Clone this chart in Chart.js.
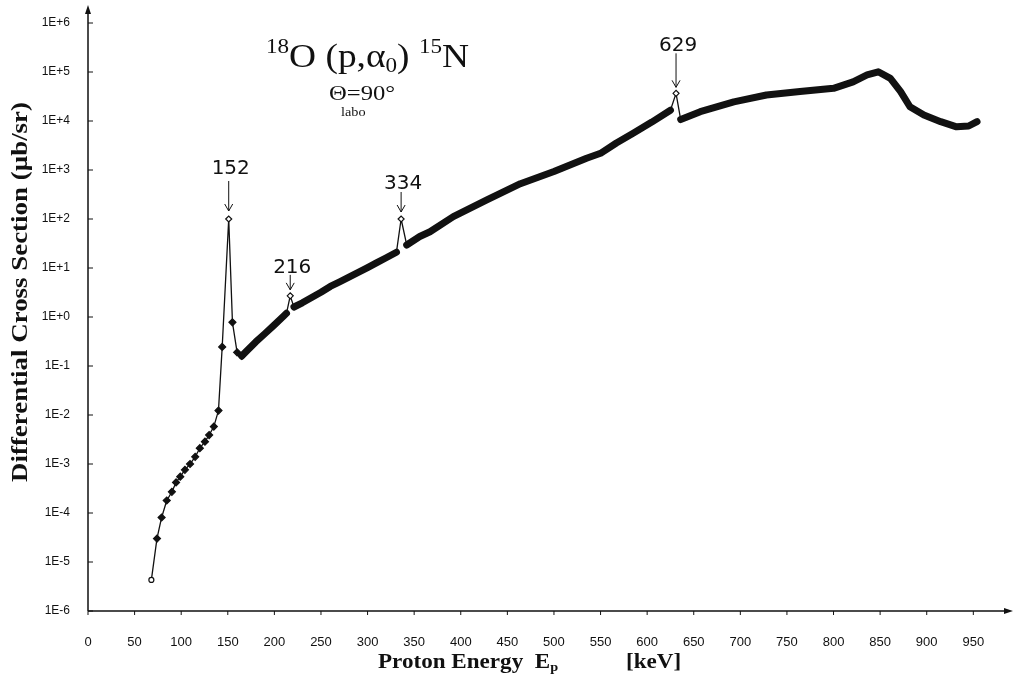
<!DOCTYPE html>
<html>
<head>
<meta charset="utf-8">
<script src="https://cdn.jsdelivr.net/npm/chart.js@4.4.1/dist/chart.umd.min.js"></script>
<style>
  body { margin: 0; background: #fff; }
  #wrap { width: 1013px; height: 676px; position: relative; }
</style>
</head>
<body>
<div id="wrap"><canvas id="xsec" width="1013" height="676"></canvas></div>
<script>
// proton energy (keV) and differential cross section (µb/sr)
const energy = [68, 74, 79, 84.5, 90, 94.5, 99, 104, 109.5, 115, 120, 125.5,
  130, 135, 140, 144, 151, 155, 160, 165, 170, 180, 190, 200,
  210, 213, 217, 221, 230, 240, 250, 260, 270, 280, 290, 300,
  310, 320, 331, 336, 342, 356, 367, 392, 428, 464, 500, 535,
  550, 567, 585, 605, 625, 631, 636, 657, 693, 728, 764, 800,
  821, 836, 848, 861, 872, 882, 897, 915, 932, 945, 954];
const sigma = [4.3e-6, 3.0e-5, 8.1e-5, 1.8e-4, 2.7e-4, 4.2e-4, 5.5e-4, 7.6e-4, 1.0e-3, 1.4e-3, 2.1e-3, 2.85e-3,
  3.9e-3, 5.8e-3, 1.23e-2, 0.245, 100, 0.78, 0.19, 0.16, 0.2, 0.31, 0.46, 0.69,
  1.05, 1.19, 2.7, 1.6, 1.95, 2.5, 3.2, 4.2, 5.2, 6.5, 8.1, 10.2,
  12.9, 16.2, 21, 100, 29.5, 44, 55, 112, 245, 525, 930, 1740,
  2190, 3550, 5600, 9500, 16600, 36700, 10700, 15500, 24600, 33900, 39800, 46400,
  63000, 87000, 101000, 74000, 39800, 19500, 13200, 9700, 7600, 7900, 9700];

// resonances marked with arrows
const peakEnergies = [151, 217, 336, 631];
const peakLabels = ['152', '216', '334', '629'];

// axis ticks
const xTicks = [0, 50, 100, 150, 200, 250, 300, 350, 400, 450, 500, 550, 600, 650, 700, 750, 800, 850, 900, 950];
const yExponents = [-6, -5, -4, -3, -2, -1, 0, 1, 2, 3, 4, 5, 6];

const peakIndex = peakEnergies.map(e => energy.indexOf(e));
const isPeak = i => peakIndex.includes(i);
const sparseUpTo = 165; // below this the data were measured point by point

// label placement above each peak point: text centre, arrow start, arrow end (px above point)
const arrowStyle = [
  { text: 50, from: 38, to: 8 },
  { text: 28, from: 21, to: 6 },
  { text: 35, from: 27, to: 7 },
  { text: 48, from: 40, to: 6 },
];

const serif = '"Liberation Serif", "Times New Roman", serif';

// draws a run of text pieces, stretched horizontally by sx, returns end x
function textRun(ctx, x, base, sx, pieces) {
  pieces.forEach(([txt, font, dy]) => {
    ctx.font = font;
    ctx.save();
    ctx.translate(x, base + dy);
    ctx.scale(sx, 1);
    ctx.fillText(txt, 0, 0);
    ctx.restore();
    x += ctx.measureText(txt).width * sx;
  });
  return x;
}

const decorations = {
  id: 'decorations',
  afterDraw(chart) {
    const ctx = chart.ctx;
    const xs = chart.scales.x, ys = chart.scales.y;
    const area = chart.chartArea;
    ctx.save();
    ctx.strokeStyle = '#111';
    ctx.fillStyle = '#111';

    // axes with arrow heads
    ctx.lineWidth = 1.5;
    ctx.beginPath();
    ctx.moveTo(area.left, area.bottom);
    ctx.lineTo(area.left, 10);
    ctx.moveTo(area.left, area.bottom);
    ctx.lineTo(1010, area.bottom);
    ctx.stroke();
    ctx.beginPath();
    ctx.moveTo(area.left, 5); ctx.lineTo(area.left - 3, 14); ctx.lineTo(area.left + 3, 14); ctx.closePath();
    ctx.moveTo(1013, area.bottom); ctx.lineTo(1004, area.bottom - 3); ctx.lineTo(1004, area.bottom + 3); ctx.closePath();
    ctx.fill();

    // tick marks
    ctx.lineWidth = 1;
    ctx.beginPath();
    yExponents.forEach(p => {
      const y = ys.getPixelForValue(Math.pow(10, p));
      ctx.moveTo(area.left, y); ctx.lineTo(area.left + 5, y);
    });
    xTicks.forEach(v => {
      const x = xs.getPixelForValue(v);
      ctx.moveTo(x, area.bottom); ctx.lineTo(x, area.bottom + 4);
    });
    ctx.stroke();

    // peak labels with arrows
    ctx.textAlign = 'center';
    ctx.textBaseline = 'middle';
    ctx.font = '20px "DejaVu Sans", sans-serif';
    peakIndex.forEach((idx, k) => {
      const px = xs.getPixelForValue(energy[idx]);
      const py = ys.getPixelForValue(sigma[idx]);
      const s = arrowStyle[k];
      ctx.fillText(peakLabels[k], px + 2, py - s.text);
      ctx.beginPath();
      ctx.moveTo(px, py - s.from);
      ctx.lineTo(px, py - s.to);
      ctx.moveTo(px - 4, py - s.to - 7);
      ctx.lineTo(px, py - s.to);
      ctx.lineTo(px + 4, py - s.to - 7);
      ctx.stroke();
    });

    // reaction title
    ctx.textAlign = 'left';
    ctx.textBaseline = 'alphabetic';
    const big = '34px ' + serif, small = '21px ' + serif;
    textRun(ctx, 266, 67, 1.1, [
      ['18', small, -14], ['O (p,\u03b1', big, 0], ['0', small, 5],
      [') ', big, 0], ['15', small, -14], ['N', big, 0]
    ]);
    textRun(ctx, 329, 100, 1.12, [['\u0398=90\u00b0', '22px ' + serif, 0]]);
    textRun(ctx, 341, 116, 1.1, [['labo', '13px ' + serif, 0]]);

    // axis titles
    const bold = 'bold 21px ' + serif;
    textRun(ctx, 378, 668, 1.1, [['Proton Energy  E', bold, 0], ['p', 'bold 13px ' + serif, 3]]);
    textRun(ctx, 626, 668, 1.1, [['[keV]', bold, 0]]);

    ctx.save();
    ctx.translate(21, 292);
    ctx.rotate(-Math.PI / 2);
    ctx.scale(1.17, 1);
    ctx.textAlign = 'center';
    ctx.textBaseline = 'middle';
    ctx.font = 'bold 23px ' + serif;
    ctx.fillText('Differential Cross Section (\u00b5b/sr)', 0, 0);
    ctx.restore();

    ctx.restore();
  }
};

const points = energy.map((e, i) => ({ x: e, y: sigma[i] }));

new Chart(document.getElementById('xsec'), {
  type: 'line',
  data: {
    datasets: [{
      data: points,
      borderColor: '#111',
      borderJoinStyle: 'round',
      borderCapStyle: 'round',
      tension: 0,
      pointStyle: c => (c.dataIndex === 0 ? 'circle' : 'rectRot'),
      pointRadius: c => {
        const i = c.dataIndex;
        if (i === 0) return 2.5;
        if (isPeak(i)) return 3;
        return energy[i] <= sparseUpTo ? 3.5 : 0;
      },
      pointBackgroundColor: c => (c.dataIndex === 0 || isPeak(c.dataIndex) ? '#fff' : '#111'),
      pointBorderColor: '#111',
      pointBorderWidth: 1.2,
      segment: {
        borderWidth: c => {
          const thin = c.p1.parsed.x <= sparseUpTo || isPeak(c.p0DataIndex) || isPeak(c.p1DataIndex);
          return thin ? 1.3 : 7;
        }
      }
    }]
  },
  options: {
    responsive: false,
    animation: false,
    layout: { padding: { top: 23, right: 8 } },
    plugins: { legend: { display: false }, tooltip: { enabled: false } },
    scales: {
      x: {
        type: 'linear',
        min: 0,
        max: 984,
        grid: { display: false },
        border: { display: false },
        afterBuildTicks: s => { s.ticks = xTicks.map(v => ({ value: v })); },
        afterFit: s => { s.height = 65; },
        ticks: {
          autoSkip: false,
          maxRotation: 0,
          padding: 16,
          color: '#111',
          font: { family: '"Liberation Sans", Arial, sans-serif', size: 13 }
        }
      },
      y: {
        type: 'logarithmic',
        min: 1e-6,
        max: 1e6,
        grid: { display: false },
        border: { display: false },
        afterBuildTicks: s => { s.ticks = yExponents.map(p => ({ value: Math.pow(10, p) })); },
        afterFit: s => { s.width = 88; },
        ticks: {
          autoSkip: false,
          padding: 10,
          color: '#111',
          font: { family: '"Liberation Sans", Arial, sans-serif', size: 12 },
          callback: v => {
            const p = Math.round(Math.log10(v));
            return '1E' + (p < 0 ? '-' : '+') + Math.abs(p);
          }
        }
      }
    }
  },
  plugins: [decorations]
});
</script>
</body>
</html>
